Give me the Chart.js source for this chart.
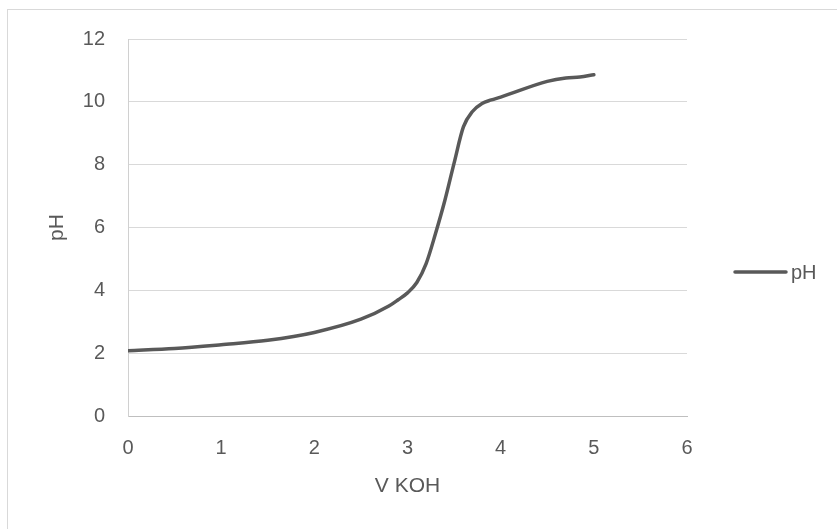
<!DOCTYPE html>
<html>
<head>
<meta charset="utf-8">
<script src="https://cdn.jsdelivr.net/npm/chart.js@4.4.1/dist/chart.umd.min.js"></script>
<style>
  html, body { margin: 0; padding: 0; background: #fff; }
  #wrap { width: 837px; height: 529px; position: relative; }
</style>
</head>
<body>
<div id="wrap"><canvas id="c" width="837" height="529"></canvas></div>
<script>
// Data
const seriesName = "pH";
const vKOH = [0, 0.5, 1.0, 1.5, 2.0, 2.5, 2.8, 2.9, 3.0, 3.1, 3.2, 3.3, 3.4, 3.5, 3.6, 3.7, 3.8, 3.9, 4.0, 4.5, 4.7, 4.85, 5.0];
const pHValues = [2.08, 2.15, 2.27, 2.41, 2.66, 3.08, 3.50, 3.70, 3.92, 4.25, 4.85, 5.80, 6.85, 8.05, 9.20, 9.70, 9.95, 10.06, 10.15, 10.65, 10.76, 10.79, 10.86];
const xTitle = "V KOH";
const yTitle = "pH";
const xTicks = [0, 1, 2, 3, 4, 5, 6];
const yTicks = [0, 2, 4, 6, 8, 10, 12];

const textColor = "#595959";
const lineColor = "#595959";
const fontFamily = "'Liberation Sans', Arial, sans-serif";

const points = vKOH.map((x, i) => ({ x: x, y: pHValues[i] }));

const frame = {
  id: 'frame',
  beforeDraw(chart) {
    const ctx = chart.ctx;
    ctx.save();
    ctx.fillStyle = '#ffffff';
    ctx.fillRect(0, 0, chart.width, chart.height);
    ctx.strokeStyle = '#d9d9d9';
    ctx.lineWidth = 1;
    ctx.strokeRect(7.5, 9.5, chart.width + 10, chart.height + 10);
    ctx.restore();
  }
};

const customLegend = {
  id: 'customLegend',
  afterDraw(chart) {
    const ctx = chart.ctx;
    const ds = chart.data.datasets[0];
    const y = 272;
    ctx.save();
    ctx.strokeStyle = ds.borderColor;
    ctx.lineWidth = 3.5;
    ctx.lineCap = 'round';
    ctx.beginPath();
    ctx.moveTo(735, y);
    ctx.lineTo(786, y);
    ctx.stroke();
    ctx.fillStyle = textColor;
    ctx.font = "20px " + fontFamily;
    ctx.textBaseline = 'middle';
    ctx.textAlign = 'left';
    ctx.fillText(ds.label, 791, y + 1);
    ctx.restore();
  }
};

new Chart(document.getElementById('c'), {
  type: 'scatter',
  data: {
    datasets: [{
      label: seriesName,
      data: points,
      showLine: true,
      borderColor: lineColor,
      backgroundColor: lineColor,
      borderWidth: 3.5,
      borderCapStyle: 'round',
      borderJoinStyle: 'round',
      pointRadius: 0,
      pointHoverRadius: 0,
      cubicInterpolationMode: 'monotone',
      tension: 0.4,
      fill: false
    }]
  },
  options: {
    responsive: false,
    animation: false,
    events: [],
    layout: { padding: { left: 0, top: 39, right: 150, bottom: 0 } },
    plugins: {
      legend: { display: false },
      tooltip: { enabled: false },
      title: { display: false }
    },
    scales: {
      x: {
        type: 'linear',
        min: 0, max: 6,
        afterBuildTicks(scale) { scale.ticks = xTicks.map(v => ({ value: v })); },
        afterFit(scale) { scale.height = 113; },
        ticks: { color: textColor, font: { family: fontFamily, size: 20 }, padding: 20, maxRotation: 0 },
        grid: { display: false, drawTicks: false },
        border: { display: true, color: '#bfbfbf', width: 1 },
        title: { display: true, text: xTitle, color: textColor, font: { family: fontFamily, size: 21 }, padding: { top: 0, bottom: 30 } }
      },
      y: {
        type: 'linear',
        min: 0, max: 12,
        afterBuildTicks(scale) { scale.ticks = yTicks.map(v => ({ value: v })); },
        afterFit(scale) { scale.width = 128; },
        ticks: { color: textColor, font: { family: fontFamily, size: 20 }, padding: 23 },
        grid: { color: '#d9d9d9', lineWidth: 1, drawTicks: false },
        border: { display: true, color: '#d0d0d0', width: 1 },
        title: { display: true, text: yTitle, color: textColor, font: { family: fontFamily, size: 21 }, padding: { top: 45, bottom: 0 } }
      }
    }
  },
  plugins: [frame, customLegend]
});
</script>
</body>
</html>
